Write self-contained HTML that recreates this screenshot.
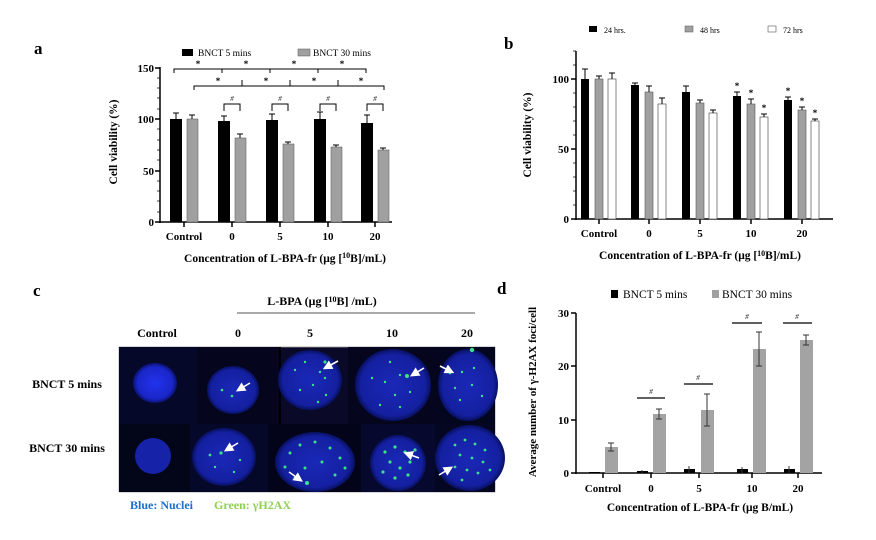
<!DOCTYPE html>
<html><head><meta charset="utf-8"><style>
body{margin:0;background:#fff;}
svg{display:block;font-family:"Liberation Serif",serif;font-weight:bold;}
</style></head><body>
<svg width="876" height="540" viewBox="0 0 876 540" xmlns="http://www.w3.org/2000/svg">
<defs>
<radialGradient id="nb" cx="50%" cy="50%" r="50%"><stop offset="0" stop-color="#2233ee"/><stop offset="0.8" stop-color="#1a26c8"/><stop offset="1" stop-color="#0a1270"/></radialGradient>
<radialGradient id="nd" cx="50%" cy="50%" r="50%"><stop offset="0" stop-color="#1a28b8"/><stop offset="0.85" stop-color="#1420a0"/><stop offset="1" stop-color="#081060"/></radialGradient>
<marker id="ar" markerWidth="6" markerHeight="6" refX="3" refY="3" orient="auto"><path d="M0,0 L6,3 L0,6 z" fill="#fff"/></marker>
</defs>

<!-- ============ Panel a ============ -->
<text x="34" y="54" font-size="17">a</text>
<rect x="182" y="49" width="11" height="7" fill="#000"/>
<text x="198" y="56" font-size="9.5" font-weight="normal">BNCT 5 mins</text>
<rect x="298" y="49" width="12" height="7" fill="#a0a0a0" stroke="#555" stroke-width="0.5"/>
<text x="313" y="56" font-size="9.5" font-weight="normal">BNCT 30 mins</text>
<g stroke="#000" stroke-width="1.5" fill="none">
<line x1="160" y1="67" x2="160" y2="223"/>
<line x1="159" y1="222" x2="392" y2="222"/>
<line x1="155" y1="68" x2="160" y2="68"/><line x1="155" y1="119" x2="160" y2="119"/><line x1="155" y1="171" x2="160" y2="171"/><line x1="155" y1="222" x2="160" y2="222"/>
<line x1="184" y1="222" x2="184" y2="227"/><line x1="232" y1="222" x2="232" y2="227"/><line x1="280" y1="222" x2="280" y2="227"/><line x1="328" y1="222" x2="328" y2="227"/><line x1="375" y1="222" x2="375" y2="227"/>
</g>
<g stroke="#000" stroke-width="0.7">
<path d="M157,78h3M157,88h3M157,98h3M157,109h3M157,129h3M157,140h3M157,150h3M157,160h3M157,181h3M157,191h3M157,201h3M157,212h3"/>
</g>
<g font-size="11" text-anchor="end"><text x="154" y="72">150</text><text x="154" y="123">100</text><text x="154" y="175">50</text><text x="154" y="226">0</text></g>
<g font-size="11" text-anchor="middle"><text x="184" y="240">Control</text><text x="232" y="240">0</text><text x="280" y="240">5</text><text x="328" y="240">10</text><text x="375" y="240">20</text></g>
<text x="285" y="262" font-size="11.5" text-anchor="middle">Concentration of L-BPA-fr (μg [<tspan font-size="8" dy="-4">10</tspan><tspan dy="4">B]/mL)</tspan></text>
<text transform="translate(117,142) rotate(-90)" font-size="11.5" text-anchor="middle">Cell viability (%)</text>
<!-- bars a -->
<g fill="#000">
<rect x="170" y="119" width="12" height="103"/><rect x="218" y="121" width="12" height="101"/><rect x="266" y="120" width="12" height="102"/><rect x="314" y="119" width="12" height="103"/><rect x="361" y="123" width="12" height="99"/>
</g>
<g fill="#a0a0a0" stroke="#666" stroke-width="0.6">
<rect x="187" y="119" width="11" height="103"/><rect x="235" y="138" width="11" height="84"/><rect x="283" y="144" width="11" height="78"/><rect x="331" y="147" width="11" height="75"/><rect x="378" y="150" width="11" height="72"/>
</g>
<g stroke="#000" stroke-width="1" fill="none">
<path d="M176,119V113M173,113h6 M224,121V116M221,116h6 M272,120V114M269,114h6 M320,119V112M317,112h6 M367,123V115M364,115h6"/>
<path d="M192,119V115M189,115h6 M240,138V134M237,134h6 M288,144V142M285,142h6 M336,147V145M333,145h6 M383,150V148M380,148h6"/>
<!-- significance -->
<path d="M174,73V69H366V73M222,69V73M270,69V73M318,69V73"/>
<path d="M194,90V86H384V90M242,86V80M290,86V80M338,86V80"/>
<path d="M224,111V104H240V111 M272,111V104H288V111 M320,111V104H336V111 M367,111V104H383V111"/>
</g>
<g font-size="9" text-anchor="middle"><text x="198" y="67">*</text><text x="246" y="67">*</text><text x="294" y="67">*</text><text x="342" y="67">*</text>
<text x="218" y="84">*</text><text x="266" y="84">*</text><text x="314" y="84">*</text><text x="361" y="84">*</text></g>
<g font-size="7" font-style="italic" font-weight="normal" text-anchor="middle"><text x="232" y="101">#</text><text x="280" y="101">#</text><text x="328" y="101">#</text><text x="375" y="101">#</text></g>

<!-- ============ Panel b ============ -->
<text x="504" y="49" font-size="17">b</text>
<rect x="589" y="26" width="8" height="6" fill="#000"/><text x="604" y="33" font-size="8" font-weight="normal">24 hrs.</text>
<rect x="685" y="26" width="8" height="6" fill="#a0a0a0" stroke="#555" stroke-width="0.5"/><text x="700" y="33" font-size="8" font-weight="normal">48 hrs</text>
<rect x="768" y="26" width="8" height="6" fill="#fff" stroke="#555" stroke-width="0.6"/><text x="783" y="33" font-size="8" font-weight="normal">72 hrs</text>
<g stroke="#000" stroke-width="1.5" fill="none">
<line x1="576" y1="51" x2="576" y2="220"/><line x1="575" y1="219" x2="833" y2="219"/>
<line x1="571" y1="79" x2="576" y2="79"/><line x1="571" y1="149" x2="576" y2="149"/><line x1="571" y1="219" x2="576" y2="219"/>
<line x1="599" y1="219" x2="599" y2="224"/><line x1="649" y1="219" x2="649" y2="224"/><line x1="700" y1="219" x2="700" y2="224"/><line x1="751" y1="219" x2="751" y2="224"/><line x1="802" y1="219" x2="802" y2="224"/>
</g>
<g stroke="#000" stroke-width="0.7"><path d="M573,51h3M573,65h3M573,93h3M573,107h3M573,121h3M573,135h3M573,163h3M573,177h3M573,191h3M573,205h3"/></g>
<g font-size="11" text-anchor="end"><text x="569" y="83">100</text><text x="569" y="153">50</text><text x="569" y="223">0</text></g>
<g font-size="11" text-anchor="middle"><text x="599" y="237">Control</text><text x="649" y="237">0</text><text x="700" y="237">5</text><text x="751" y="237">10</text><text x="802" y="237">20</text></g>
<text x="700" y="259" font-size="11.5" text-anchor="middle">Concentration of L-BPA-fr (μg [<tspan font-size="8" dy="-3">10</tspan><tspan dy="3">B]/mL)</tspan></text>
<text transform="translate(531,135) rotate(-90)" font-size="11.5" text-anchor="middle">Cell viability (%)</text>
<g fill="#000">
<rect x="581" y="79" width="8" height="140"/><rect x="631" y="85" width="8" height="134"/><rect x="682" y="92" width="8" height="127"/><rect x="733" y="96" width="8" height="123"/><rect x="784" y="100" width="8" height="119"/>
</g>
<g fill="#a0a0a0" stroke="#555" stroke-width="0.6">
<rect x="595" y="79" width="8" height="140"/><rect x="645" y="92" width="8" height="127"/><rect x="696" y="103" width="8" height="116"/><rect x="747" y="104" width="8" height="115"/><rect x="798" y="110" width="8" height="109"/>
</g>
<g fill="#fff" stroke="#555" stroke-width="0.7">
<rect x="608" y="79" width="8" height="140"/><rect x="658" y="104" width="8" height="115"/><rect x="709" y="113" width="8" height="106"/><rect x="760" y="117" width="8" height="102"/><rect x="811" y="121" width="8" height="98"/>
</g>
<g stroke="#000" stroke-width="1" fill="none">
<path d="M585,79V69M582,69h6 M635,85V83M632,83h6 M686,92V86M683,86h6 M737,96V92M734,92h6 M788,100V97M785,97h6"/>
<path d="M599,79V76M596,76h6 M649,92V86M646,86h6 M700,103V100M697,100h6 M751,104V99M748,99h6 M802,110V107M799,107h6"/>
<path d="M612,79V73M609,73h6 M662,104V98M659,98h6 M713,113V110M710,110h6 M764,117V114M761,114h6 M815,121V119M812,119h6"/>
</g>
<g font-size="9" text-anchor="middle"><text x="737" y="89">*</text><text x="751" y="96">*</text><text x="764" y="111">*</text><text x="788" y="94">*</text><text x="802" y="104">*</text><text x="815" y="116">*</text></g>

<!-- ============ Panel c ============ -->
<text x="33" y="296" font-size="17">c</text>
<text x="322" y="305" font-size="12" text-anchor="middle">L-BPA (μg [<tspan font-size="8" dy="-3">10</tspan><tspan dy="3">B] /mL)</tspan></text>
<line x1="237" y1="313" x2="475" y2="313" stroke="#555" stroke-width="1"/>
<g font-size="12" text-anchor="middle"><text x="157" y="337">Control</text><text x="238" y="337">0</text><text x="310" y="337">5</text><text x="392" y="337">10</text><text x="467" y="337">20</text></g>
<text x="67" y="388" font-size="12" text-anchor="middle">BNCT 5 mins</text>
<text x="67" y="452" font-size="12" text-anchor="middle">BNCT 30 mins</text>
<g font-size="12"><text x="130" y="509" fill="#1a6fd0">Blue: Nuclei</text><text x="214" y="509" fill="#8fd14f">Green: γH2AX</text></g>

<rect x="119" y="347" width="376" height="145" fill="#0a0a28" stroke="#999" stroke-width="0.8"/>
<rect x="119" y="347" width="78" height="77" fill="#06082a"/>
<rect x="197" y="347" width="82" height="77" fill="#05061e"/>
<rect x="279" y="347" width="2" height="77" fill="#000"/>
<rect x="348" y="347" width="89" height="77" fill="#05061e"/>
<rect x="437" y="347" width="58" height="77" fill="#040620"/>
<rect x="119" y="424" width="71" height="68" fill="#030518"/>
<rect x="190" y="424" width="78" height="68" fill="#050828"/>
<rect x="268" y="424" width="93" height="68" fill="#03041a"/>
<rect x="361" y="424" width="74" height="68" fill="#06082e"/>
<rect x="435" y="424" width="60" height="68" fill="#040622"/>
<g>
<ellipse cx="155" cy="383" rx="22" ry="20" fill="url(#nb)"/>
<ellipse cx="233" cy="390" rx="26" ry="24" fill="url(#nd)"/>
<ellipse cx="310" cy="380" rx="32" ry="30" fill="url(#nd)"/>
<ellipse cx="393" cy="385" rx="38" ry="36" fill="url(#nd)"/>
<ellipse cx="468" cy="385" rx="30" ry="36" fill="url(#nd)"/>
<ellipse cx="153" cy="456" rx="18" ry="18" fill="#1622a8"/>
<ellipse cx="224" cy="457" rx="32" ry="29" fill="url(#nd)"/>
<ellipse cx="315" cy="462" rx="40" ry="30" fill="url(#nd)"/>
<ellipse cx="398" cy="463" rx="28" ry="28" fill="url(#nd)"/>
<ellipse cx="470" cy="458" rx="35" ry="33" fill="url(#nd)"/>
</g>
<g fill="#3ee08a">
<circle cx="222" cy="390" r="1.3"/><circle cx="232" cy="396" r="1.3"/>
<circle cx="295" cy="370" r="1.2"/><circle cx="305" cy="362" r="1.2"/><circle cx="320" cy="372" r="1.2"/><circle cx="313" cy="385" r="1.2"/><circle cx="326" cy="395" r="1.2"/><circle cx="300" cy="390" r="1.2"/><circle cx="318" cy="402" r="1.2"/><circle cx="325" cy="378" r="1.2"/><circle cx="325" cy="362" r="1.6"/>
<circle cx="372" cy="378" r="1.2"/><circle cx="385" cy="382" r="1.2"/><circle cx="400" cy="375" r="1.2"/><circle cx="407" cy="376" r="2"/><circle cx="395" cy="395" r="1.2"/><circle cx="380" cy="405" r="1.2"/><circle cx="400" cy="407" r="1.2"/><circle cx="410" cy="392" r="1.2"/><circle cx="390" cy="362" r="1.2"/>
<circle cx="450" cy="373" r="1.4"/><circle cx="462" cy="372" r="1.2"/><circle cx="474" cy="368" r="1.2"/><circle cx="455" cy="388" r="1.2"/><circle cx="472" cy="385" r="1.2"/><circle cx="482" cy="396" r="1.2"/><circle cx="460" cy="400" r="1.2"/><circle cx="472" cy="350" r="2.2"/>
<circle cx="210" cy="455" r="1.4"/><circle cx="221" cy="453" r="1.6"/><circle cx="230" cy="450" r="1.2"/><circle cx="215" cy="467" r="1.2"/><circle cx="234" cy="472" r="1.2"/><circle cx="240" cy="460" r="1.2"/>
<circle cx="290" cy="453" r="1.5"/><circle cx="300" cy="445" r="1.5"/><circle cx="315" cy="442" r="1.5"/><circle cx="330" cy="448" r="1.5"/><circle cx="340" cy="458" r="1.5"/><circle cx="322" cy="462" r="1.5"/><circle cx="305" cy="468" r="1.5"/><circle cx="295" cy="478" r="1.5"/><circle cx="307" cy="483" r="2"/><circle cx="335" cy="475" r="1.5"/><circle cx="345" cy="468" r="1.5"/><circle cx="285" cy="467" r="1.5"/>
<circle cx="385" cy="452" r="1.6"/><circle cx="395" cy="447" r="1.6"/><circle cx="405" cy="452" r="1.6"/><circle cx="390" cy="462" r="1.6"/><circle cx="400" cy="468" r="1.6"/><circle cx="410" cy="462" r="1.6"/><circle cx="383" cy="472" r="1.6"/><circle cx="395" cy="478" r="1.6"/><circle cx="408" cy="475" r="1.6"/><circle cx="415" cy="450" r="1.6"/>
<circle cx="455" cy="445" r="1.4"/><circle cx="465" cy="440" r="1.4"/><circle cx="475" cy="444" r="1.4"/><circle cx="485" cy="450" r="1.4"/><circle cx="460" cy="455" r="1.4"/><circle cx="472" cy="458" r="1.4"/><circle cx="483" cy="462" r="1.4"/><circle cx="455" cy="467" r="1.4"/><circle cx="467" cy="470" r="1.4"/><circle cx="478" cy="473" r="1.4"/><circle cx="490" cy="470" r="1.4"/><circle cx="462" cy="480" r="1.4"/>
</g>
<g stroke="#fff" stroke-width="1.6" marker-end="url(#ar)">
<line x1="250" y1="383" x2="240" y2="389"/>
<line x1="338" y1="361" x2="327" y2="367"/>
<line x1="424" y1="368" x2="414" y2="374"/>
<line x1="440" y1="366" x2="450" y2="371"/>
<line x1="238" y1="443" x2="228" y2="449"/>
<line x1="289" y1="472" x2="299" y2="479"/>
<line x1="419" y1="458" x2="408" y2="454"/>
<line x1="439" y1="475" x2="449" y2="469"/>
</g>

<!-- ============ Panel d ============ -->
<text x="497" y="294" font-size="17">d</text>
<rect x="611" y="290" width="7" height="8" fill="#000"/><text x="623" y="298" font-size="11.5" font-weight="normal">BNCT 5 mins</text>
<rect x="712" y="290" width="7" height="8" fill="#a0a0a0"/><text x="722" y="298" font-size="11.5" font-weight="normal">BNCT 30 mins</text>
<g stroke="#000" stroke-width="1.5" fill="none">
<line x1="576" y1="313" x2="576" y2="474"/><line x1="575" y1="473" x2="822" y2="473"/>
<line x1="571" y1="313" x2="576" y2="313"/><line x1="571" y1="366" x2="576" y2="366"/><line x1="571" y1="420" x2="576" y2="420"/><line x1="571" y1="473" x2="576" y2="473"/>
<line x1="603" y1="473" x2="603" y2="478"/><line x1="651" y1="473" x2="651" y2="478"/><line x1="699" y1="473" x2="699" y2="478"/><line x1="752" y1="473" x2="752" y2="478"/><line x1="798" y1="473" x2="798" y2="478"/>
</g>
<g font-size="11" text-anchor="end"><text x="569" y="317">30</text><text x="569" y="370">20</text><text x="569" y="424">10</text><text x="569" y="477">0</text></g>
<g font-size="11" text-anchor="middle"><text x="603" y="492">Control</text><text x="651" y="492">0</text><text x="699" y="492">5</text><text x="752" y="492">10</text><text x="798" y="492">20</text></g>
<text x="700" y="511" font-size="11.5" text-anchor="middle">Concentration of L-BPA-fr (μg B/mL)</text>
<text transform="translate(536,392) rotate(-90)" font-size="11" text-anchor="middle">Average number of γ-H2AX foci/cell</text>
<g fill="#000">
<rect x="589" y="472" width="11" height="1"/><rect x="637" y="471" width="11" height="2"/><rect x="684" y="469" width="11" height="4"/><rect x="737" y="469" width="11" height="4"/><rect x="784" y="469" width="11" height="4"/>
</g>
<g fill="#a3a3a3">
<rect x="605" y="447" width="13" height="26"/><rect x="653" y="414" width="13" height="59"/><rect x="701" y="410" width="13" height="63"/><rect x="753" y="349" width="13" height="124"/><rect x="800" y="340" width="13" height="133"/>
</g>
<g stroke="#333" stroke-width="1" fill="none">
<path d="M611,443V451M608,443h6M608,451h6 M659,409V419M656,409h6M656,419h6 M707,394V426M704,394h6M704,426h6 M759,332V366M756,332h6M756,366h6 M806,335V345M803,335h6M803,345h6"/>
<path d="M642,470V473 M689,466V473 M742,467V473 M789,466V473"/>
</g>
<g stroke="#000" stroke-width="1.3"><line x1="637" y1="398" x2="665" y2="398"/><line x1="684" y1="384" x2="713" y2="384"/><line x1="732" y1="323" x2="762" y2="323"/><line x1="783" y1="323" x2="812" y2="323"/></g>
<g font-size="7" font-style="italic" font-weight="normal" text-anchor="middle"><text x="651" y="394">#</text><text x="698" y="380">#</text><text x="747" y="319">#</text><text x="797" y="319">#</text></g>
</svg>
</body></html>
